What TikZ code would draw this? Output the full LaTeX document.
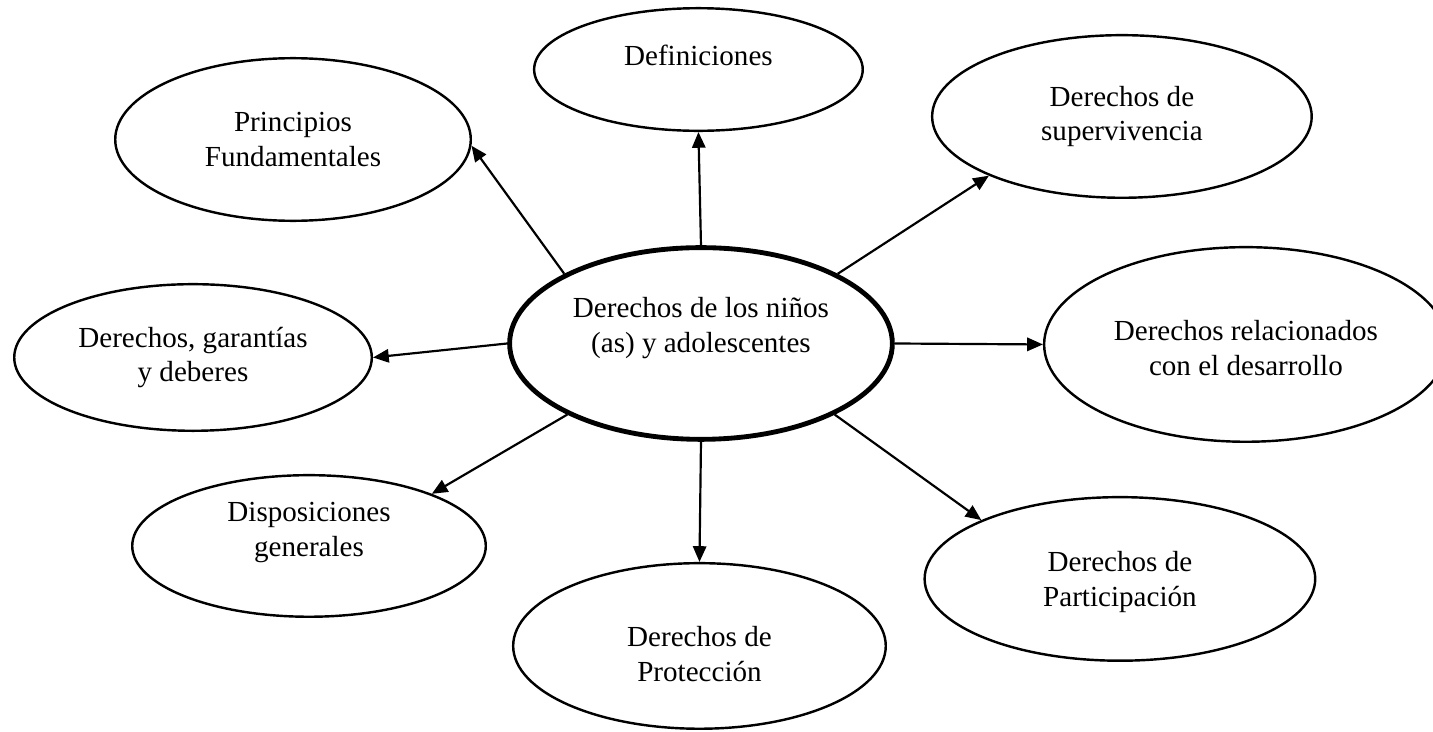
\documentclass[tikz,border=0pt]{standalone}
\usepackage{fontspec}
\setmainfont{Liberation Serif}
\usepackage{tikz}
\usetikzlibrary{shapes,arrows.meta,positioning}

\tikzset{
    tema/.style={ellipse, draw, line width=1pt, inner sep=0pt},
    texto/.style={align=center, font=\fontsize{12}{14.4}\selectfont},
    flecha/.style={-{Triangle[length=6.5pt,width=5.5pt]}, line width=0.9pt}
}

\begin{document}
\begin{tikzpicture}
    \useasboundingbox (0,0) rectangle (20.78,10.614);
    \clip (0,0) rectangle (20.78,10.614);

    % nodo central
    \node [tema, line width=2pt, minimum width=5.55cm, minimum height=2.78cm,
        label={[texto,yshift=2.2mm]center:{Derechos de los niños\\(as) y adolescentes}}] (centro) at (10.165,5.633) {};

    % temas alrededor
    \node [tema, minimum width=4.765cm, minimum height=1.778cm,
        label={[texto,yshift=2.1mm]center:{Definiciones}}] (def) at (10.128,9.606) {};
    \node [tema, minimum width=5.156cm, minimum height=2.358cm,
        label={[texto]center:{Principios\\Fundamentales}}] (princ) at (4.249,8.591) {};
    \node [tema, minimum width=5.504cm, minimum height=2.358cm,
        label={[texto]center:{Derechos de\\supervivencia}}] (superv) at (16.269,8.925) {};
    \node [tema, minimum width=5.185cm, minimum height=2.126cm,
        label={[texto]center:{Derechos, garantías\\y deberes}}] (garant) at (2.799,5.430) {};
    \node [tema, minimum width=5.852cm, minimum height=2.822cm,
        label={[texto,yshift=-0.5mm]center:{Derechos relacionados\\con el desarrollo}}] (desarr) at (18.067,5.619) {};
    \node [tema, minimum width=5.127cm, minimum height=2.053cm,
        label={[texto,yshift=2mm]center:{Disposiciones\\generales}}] (dispos) at (4.481,2.697) {};
    \node [tema, minimum width=5.403cm, minimum height=2.401cm,
        label={[texto,yshift=-1.2mm]center:{Derechos de\\Protección}}] (protec) at (10.143,1.247) {};
    \node [tema, minimum width=5.664cm, minimum height=2.372cm,
        label={[texto,yshift=-0.4mm]center:{Derechos de\\Participación}}] (partic) at (16.24,2.219) {};

    % flechas
    \draw [flecha] (centro.north) -- (def.south);
    \draw [flecha] (centro.153) -- (princ.-2);
    \draw [flecha] (centro.27) -- (superv.204);
    \draw [flecha] (centro.west) -- (garant.east);
    \draw [flecha] (centro.east) -- (desarr.west);
    \draw [flecha] (centro.208) -- (dispos.23);
    \draw [flecha] (centro.south) -- (protec.north);
    \draw [flecha] (centro.332) -- (partic.157);
\end{tikzpicture}
\end{document}
